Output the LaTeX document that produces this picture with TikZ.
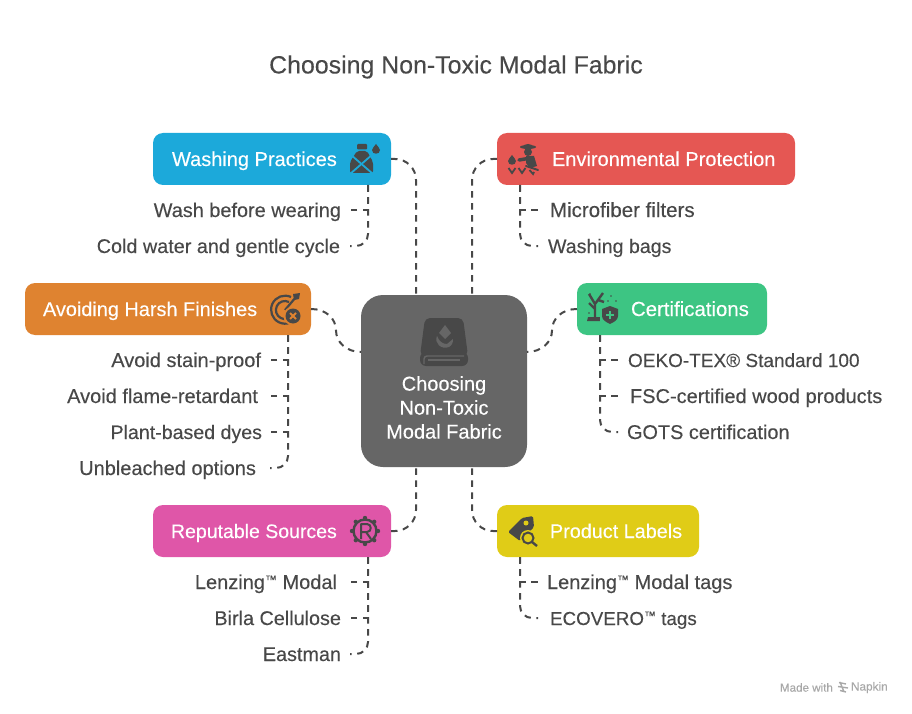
\documentclass[tikz,border=0pt]{standalone}
\usepackage{fontspec}
\setmainfont[FakeBold=0.25]{Liberation Sans}
\usetikzlibrary{calc}
\definecolor{ink}{HTML}{484848}
\definecolor{cblue}{HTML}{1CA9DA}
\definecolor{cred}{HTML}{E55753}
\definecolor{corange}{HTML}{DF8330}
\definecolor{cgreen}{HTML}{3DC583}
\definecolor{cpink}{HTML}{DF56A8}
\definecolor{cyellow}{HTML}{E0CC17}
\definecolor{ccenter}{HTML}{666666}
\definecolor{foot}{HTML}{A8A8A8}
\newcommand{\fs}[1]{\fontsize{#1}{24}\selectfont}
\newcommand{\boxtext}[4]{\makebox[#1pt][l]{\hspace{#2pt}\fs{#3}#4}}
\newcommand{\tmark}{\raisebox{5.2pt}{\fontsize{12}{12}\selectfont ™}}
\tikzset{
  x=1pt,y=-1pt,
  every node/.style={inner sep=0pt,outer sep=0pt},
  catbox/.style={fill=#1,rounded corners=10pt,minimum height=52pt,text=white,
    text height=14pt,text depth=0pt},
  leafl/.style={anchor=east,inner xsep=#1pt,text=ink,font=\fs{20},text height=18pt,text depth=4pt},
  leafr/.style={anchor=west,inner xsep=#1pt,text=ink,font=\fs{20},text height=18pt,text depth=4pt},
  conn/.style={draw=ink,line width=2pt,dash pattern=on 6.5pt off 5.5pt},
  trunkend/.style={conn,rounded corners=12pt},
  hub/.style={conn,rounded corners=21pt},
}
\begin{document}
\begin{tikzpicture}
\useasboundingbox (0,0) rectangle (912,714);
\node[text=ink,font=\fontsize{24.9}{28}\selectfont] (title) at (456,67) {Choosing Non-Toxic Modal Fabric};

% central box
\node[fill=ccenter,rounded corners=22pt,minimum width=166pt,minimum height=172pt,text=white,
      font=\fs{20}] (center) at (444,381)
  {\smash{\raisebox{-34pt}{\begin{tabular}{@{}c@{}}Choosing\\Non-Toxic\\Modal Fabric\end{tabular}}}};

% category boxes
\node[catbox=cblue]   (washing) at (272,159) {\boxtext{238}{19}{20}{Washing Practices}};
\node[catbox=cred]    (environ) at (646,159) {\boxtext{298}{55}{20}{Environmental Protection}};
\node[catbox=corange] (avoiding) at (168,309) {\boxtext{286}{18}{19.9}{Avoiding Harsh Finishes}};
\node[catbox=cgreen]  (certs) at (672,309) {\boxtext{190}{54}{20.4}{Certifications}};
\node[catbox=cpink]   (sources) at (272,531) {\boxtext{238}{18}{19.5}{Reputable Sources}};
\node[catbox=cyellow] (labels) at (598,531) {\boxtext{202}{53}{19.8}{Product Labels}};

% leaf texts
\node[leafl=9] (w1) at (350,210) {\fs{19.9}Wash before wearing};
\node[leafl=10] (w2) at (350,246) {\fs{19.8}Cold water and gentle cycle};
\node[leafr=12] (e1) at (538,210) {\fs{20.5}Microfiber filters};
\node[leafr=10] (e2) at (538,246) {\fs{19.6}Washing bags};
\node[leafl=9] (a1) at (270,360) {Avoid stain-proof};
\node[leafl=12] (a2) at (270,396) {Avoid flame-retardant};
\node[leafl=8] (a3) at (270,432) {\fs{19.6}Plant-based dyes};
\node[leafl=14] (a4) at (270,468) {Unbleached options};
\node[leafr=10] (c1) at (618,360) {\fs{19}OEKO-TEX® Standard 100};
\node[leafr=12] (c2) at (618,396) {FSC-certified wood products};
\node[leafr=9] (c3) at (618,432) {\fs{19.9}GOTS certification};
\node[leafl=13] (s1) at (350,582) {Lenzing\tmark\ Modal};
\node[leafl=9] (s2) at (350,618) {\fs{19.8}Birla Cellulose};
\node[leafl=9] (s3) at (350,654) {\fs{19.8}Eastman};
\node[leafr=9] (l1) at (538,582) {Lenzing\tmark\ Modal tags};
\node[leafr=12] (l2) at (538,618) {\fs{18.8}ECOVERO\tmark\ tags};

% trunk abscissae
\coordinate (hubL) at (416,0);
\coordinate (hubR) at (472,0);
\coordinate (hubY) at (0,352);
\coordinate (wt) at (368,0);
\coordinate (et) at (520,0);
\coordinate (at) at (288,0);
\coordinate (ct) at (600,0);
\coordinate (st) at (368,0);
\coordinate (lt) at (520,0);
\coordinate (hubW) at (center.west |- hubY);
\coordinate (hubE) at (center.east |- hubY);
\coordinate (amid) at ($(avoiding.east)!.5!(hubW)$);
\coordinate (cmid) at ($(certs.west)!.5!(hubE)$);

% hub connectors
\draw[hub] (washing.east) -| (center.north -| hubL);
\draw[hub] (environ.west) -| (center.north -| hubR);
\draw[hub] (sources.east) -| (center.south -| hubL);
\draw[hub] (labels.west) -| (center.south -| hubR);
\draw[conn] (avoiding.east) .. controls +(15,0) and +(0,-12) .. (amid) .. controls +(0,12) and +(-14,0) .. (hubW);
\draw[conn] (certs.west) .. controls +(-15,0) and +(0,-12) .. (cmid) .. controls +(0,12) and +(14,0) .. (hubE);

% leaf connectors
\draw[conn] (washing.south -| wt) |- (w1.east);
\draw[trunkend] (washing.south -| wt) |- (w2.east);
\draw[conn] (environ.south -| et) |- (e1.west);
\draw[trunkend] (environ.south -| et) |- (e2.west);
\draw[conn] (avoiding.south -| at) |- (a1.east);
\draw[conn] (avoiding.south -| at) |- (a2.east);
\draw[conn] (avoiding.south -| at) |- (a3.east);
\draw[trunkend] (avoiding.south -| at) |- (a4.east);
\draw[conn] (certs.south -| ct) |- (c1.west);
\draw[conn] (certs.south -| ct) |- (c2.west);
\draw[trunkend] (certs.south -| ct) |- (c3.west);
\draw[conn] (sources.south -| st) |- (s1.east);
\draw[conn] (sources.south -| st) |- (s2.east);
\draw[trunkend] (sources.south -| st) |- (s3.east);
\draw[conn] (labels.south -| lt) |- (l1.west);
\draw[trunkend] (labels.south -| lt) |- (l2.west);

% --- icons ---
% central roll
\fill[ink,rounded corners=5pt] (425,318) -- (463,318) -- (468,356) -- (420,356) -- cycle;
\fill[ink,rounded corners=6pt] (420,352) rectangle (468,366);
\draw[ccenter,line width=1.4pt,rounded corners=3pt] (424,364) -- (424,356) -- (464,356);
\draw[ccenter,line width=1.6pt] (428,360) -- (460,360);
\fill[ccenter] (445,325) -- (451,333) -- (445,339) -- (439,333) -- cycle;
\fill[ccenter] (437,336) .. controls (434,343) and (441,350) .. (449,347) .. controls (452,345) and (453,343) .. (453,339) -- (447,344) .. controls (442,344) and (439,341) .. cycle;

% washing: bottle and drop
\fill[ink,rounded corners=1pt] (357,144) rectangle (367,149.5);
\fill[ink,rounded corners=2pt] (357,151) -- (367,151) -- (373,162) -- (373,173) -- (350,173) -- (350,162) -- cycle;
\draw[cblue,line width=1.8pt] (350,154) -- (373,174);
\draw[cblue,line width=1.8pt] (373,154) -- (350,174);
\fill[ink] (376,144) .. controls (377,146) and (380,148) .. (380,150) .. controls (380,155) and (372,155) .. (372,150) .. controls (372,148) and (375,146) .. cycle;

% environment: farmer
\fill[ink] (528,147) ellipse (8pt and 2pt);
\fill[ink] (523,147) arc (180:0:5pt and 3pt) -- cycle;
\fill[ink] (528,152) circle (4pt);
\draw[ink,line width=3.5pt,line cap=round] (519,160) -- (531,158);
\fill[ink] (526,156) -- (534,156) -- (537,166) -- (530,168) -- (526,163) -- cycle;
\draw[ink,line width=2pt,line cap=round] (526,166) -- (538,170);
\fill[ink] (512,155) .. controls (513,157) and (516,159) .. (516,161) .. controls (516,166) and (508,166) .. (508,161) .. controls (508,159) and (511,157) .. cycle;
\draw[ink,line width=1.8pt] (508.5,168) -- (512,173) -- (515.5,168);
\draw[ink,line width=1.8pt] (518.5,168) -- (522,173) -- (525.5,168);
\draw[ink,line width=1.8pt] (529.5,170) -- (533,174) -- (534,172);

% avoiding: target, arrow, cross badge
\draw[ink,line width=2.2pt] (291,297) arc (65:290:14pt);
\draw[ink,line width=2.2pt] (289,302) arc (63:280:9pt);
\draw[ink,line width=2.2pt] (285,310) -- (296,297);
\fill[ink] (293,294) -- (300,293) -- (299,299) -- (294,300) -- cycle;
\fill[corange] (293,316) circle (9.5pt);
\fill[ink] (293,316) circle (7.5pt);
\draw[corange,line width=1.8pt] (290,313) -- (296,319) (296,313) -- (290,319);

% certifications: bare tree and shield
\draw[ink,line width=2.4pt] (595,319) -- (595,304) -- (589,294)
  (595,309) -- (589,303) (595,304) -- (603,293) (598,300) -- (604,302);
\fill[ink] (588,317) -- (602,317) -- (604,321) -- (587,321) -- cycle;
\fill[cgreen] (600,304) rectangle (620,325);
\fill[ink] (610,306) -- (618,309) -- (618,316) .. controls (618,320) and (614,322) .. (610,324) .. controls (606,322) and (602,320) .. (602,316) -- (602,309) -- cycle;
\draw[cgreen,line width=2pt] (610,311) -- (610,319) (606,315) -- (614,315);
\foreach \p/\q in {590/294,611/296,616/301,608/301,589/313}{\fill[ink] (\p,\q) circle (.9pt);}

% sources: gear with R
\draw[ink,line width=2.4pt] (365,531) circle (11.5pt);
\foreach \a in {0,45,...,315}{\fill[ink] ($(365,531)+(\a:13pt)$) circle (2.2pt);}
\draw[ink,line width=2pt,line join=round] (361,539) -- (361,524) -- (367,524) .. controls (372,524) and (372,532) .. (367,532) -- (361,532) (366,532) -- (371,539);

% labels: tag and magnifier
\fill[ink,rounded corners=1.5pt] (508,532) -- (522,518) -- (533,516) -- (534,527) -- (520,541) -- cycle;
\fill[cyellow] (526,523) circle (2.5pt);
\fill[cyellow] (528,538) circle (8pt);
\draw[ink,line width=2pt] (528,538) circle (5.5pt);
\draw[ink,line width=2.4pt] (532,542) -- (537,546);

% footer
\node[text=foot,font=\fontsize{11.6}{13}\selectfont,anchor=west] (made) at (780,687.5) {Made with};
\node[text=foot,font=\fontsize{11.8}{13}\selectfont,anchor=west] (napkin) at (851,687.5) {Napkin};
\draw[foot,line width=1.4pt] (839,682.5) -- (846,684) (838,686.5) -- (848,688) (840,690.5) -- (846,692) (840,682) -- (844,692);
\end{tikzpicture}
\end{document}
